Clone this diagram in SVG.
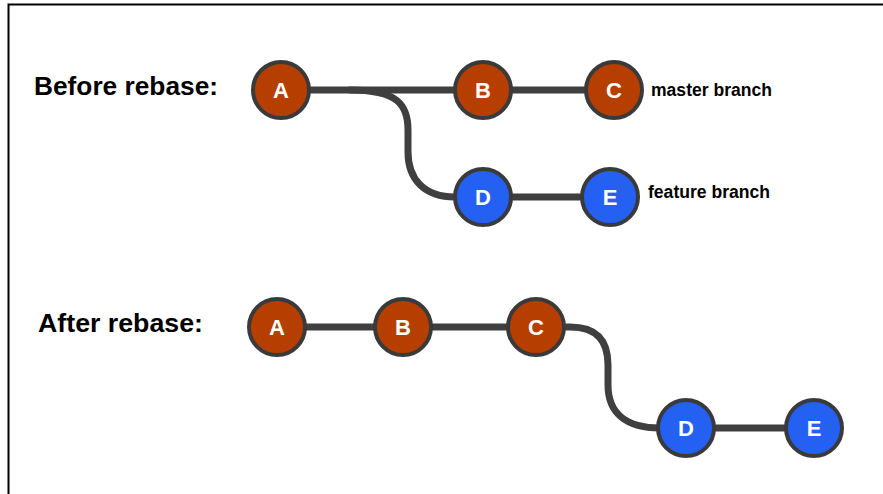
<svg xmlns="http://www.w3.org/2000/svg" width="883" height="494" viewBox="0 0 883 494">
<style>
.edge{fill:none;stroke:#3f3f3f;stroke-width:7;stroke-linecap:round}
.node circle{stroke:#3a3a3a;stroke-width:4}
.m circle{fill:#b63f00}
.f circle{fill:#2460f2}
.node text{font-family:"Liberation Sans",Arial,sans-serif;font-weight:bold;font-size:22px;fill:#ffffff;text-anchor:middle}
.lbl{font-family:"Liberation Sans",Arial,sans-serif;font-weight:bold;fill:#000}
</style>
<rect x="0" y="0" width="883" height="494" fill="#ffffff"/>
<path d="M8.5 494 V4.5 H883" fill="none" stroke="#000" stroke-width="2"/>
<text class="lbl" x="34" y="95" font-size="22" textLength="184" lengthAdjust="spacingAndGlyphs" style="font-size:26px">Before rebase:</text>
<text class="lbl" x="38" y="332" textLength="165" lengthAdjust="spacingAndGlyphs" style="font-size:26px">After rebase:</text>
<text class="lbl" x="651" y="96" textLength="121" lengthAdjust="spacingAndGlyphs" style="font-size:17.5px">master branch</text>
<text class="lbl" x="648" y="198" textLength="122" lengthAdjust="spacingAndGlyphs" style="font-size:17.5px">feature branch</text>
<g id="connectors">
<path class="edge" d="M281 90 H614"/>
<path class="edge" d="M350 90 C398 90 408 105 408 130 L408 152 C408 180 425 197 455 197"/>
<path class="edge" d="M483 197 H610"/>
<path class="edge" d="M277 327 H536"/>
<path class="edge" d="M536 327 H570 C598 327 608 342 608 365 L608 385 C608 412 625 428 660 428"/>
<path class="edge" d="M686 428 H814"/>
</g>
<g id="before-A" class="node m"><circle cx="281" cy="90" r="28"/><text x="281" y="98">A</text></g>
<g id="before-B" class="node m"><circle cx="483" cy="90" r="28"/><text x="483" y="98">B</text></g>
<g id="before-C" class="node m"><circle cx="614" cy="90" r="28"/><text x="614" y="98">C</text></g>
<g id="before-D" class="node f"><circle cx="483" cy="197" r="28"/><text x="483" y="205">D</text></g>
<g id="before-E" class="node f"><circle cx="610" cy="197" r="28"/><text x="610" y="205">E</text></g>
<g id="after-A" class="node m"><circle cx="277" cy="327" r="28"/><text x="277" y="335">A</text></g>
<g id="after-B" class="node m"><circle cx="403" cy="327" r="28"/><text x="403" y="335">B</text></g>
<g id="after-C" class="node m"><circle cx="536" cy="327" r="28"/><text x="536" y="335">C</text></g>
<g id="after-D" class="node f"><circle cx="686" cy="428" r="28"/><text x="686" y="436">D</text></g>
<g id="after-E" class="node f"><circle cx="814" cy="428" r="28"/><text x="814" y="436">E</text></g>
</svg>
